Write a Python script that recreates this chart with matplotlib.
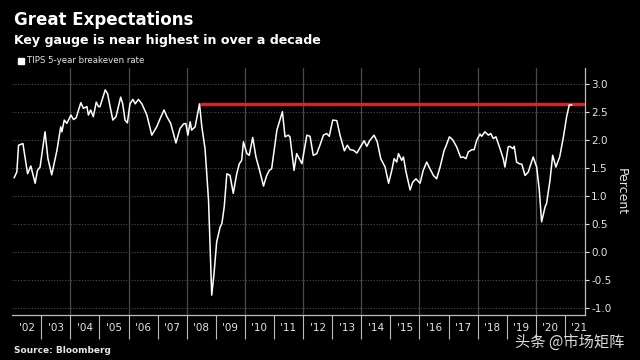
import matplotlib
matplotlib.use("Agg")
import matplotlib.pyplot as plt
from matplotlib.ticker import FixedLocator, NullFormatter

# TIPS 5-year breakeven rate (decimal year, percent)
dates = [
    2002.07, 2002.16, 2002.22, 2002.37, 2002.53, 2002.64, 2002.79, 2002.87, 2002.96,
    2003.13, 2003.23, 2003.36, 2003.54, 2003.67, 2003.71, 2003.79, 2003.88,
    2004.02, 2004.11, 2004.20, 2004.36, 2004.45, 2004.57, 2004.62, 2004.70, 2004.79, 2004.89, 2004.97,
    2005.02, 2005.20, 2005.28, 2005.46, 2005.57, 2005.73, 2005.80, 2005.88, 2005.96,
    2006.05, 2006.15, 2006.23, 2006.34, 2006.46, 2006.63, 2006.80, 2006.97,
    2007.09, 2007.22, 2007.32, 2007.45, 2007.63, 2007.77, 2007.89, 2007.97,
    2008.04, 2008.12, 2008.17, 2008.29, 2008.44, 2008.52, 2008.63, 2008.75, 2008.86, 2008.94,
    2009.03, 2009.15, 2009.21, 2009.29, 2009.38, 2009.49, 2009.60, 2009.72, 2009.81, 2009.89, 2009.95,
    2010.07, 2010.15, 2010.27, 2010.38, 2010.52, 2010.64, 2010.75, 2010.84, 2010.92,
    2011.10, 2011.29, 2011.38, 2011.49, 2011.55, 2011.69, 2011.78, 2011.96,
    2012.13, 2012.24, 2012.35, 2012.47, 2012.58, 2012.70, 2012.81, 2012.90,
    2013.02, 2013.16, 2013.27, 2013.42, 2013.52, 2013.62, 2013.73, 2013.85, 2013.96,
    2014.10, 2014.19, 2014.30, 2014.44, 2014.55, 2014.67, 2014.82, 2014.94,
    2015.05, 2015.13, 2015.22, 2015.28, 2015.39, 2015.45, 2015.54, 2015.68, 2015.77, 2015.88,
    2016.02, 2016.13, 2016.25, 2016.36, 2016.48, 2016.59, 2016.71, 2016.85, 2016.91,
    2017.03, 2017.14, 2017.28, 2017.42, 2017.51, 2017.60, 2017.68, 2017.80, 2017.88, 2017.97,
    2018.08, 2018.14, 2018.25, 2018.37, 2018.45, 2018.54, 2018.63, 2018.77, 2018.88, 2018.94,
    2019.05, 2019.11, 2019.21, 2019.26, 2019.34, 2019.43, 2019.52, 2019.63, 2019.74, 2019.91,
    2020.03, 2020.12, 2020.20, 2020.32, 2020.37, 2020.49, 2020.58, 2020.69, 2020.82, 2020.95,
    2021.06, 2021.15, 2021.23,
]
breakeven = [
    1.33, 1.43, 1.91, 1.94, 1.40, 1.54, 1.23, 1.46, 1.52,
    2.15, 1.67, 1.38, 1.82, 2.24, 2.15, 2.36, 2.30,
    2.45, 2.37, 2.40, 2.67, 2.57, 2.60, 2.45, 2.54, 2.42, 2.68, 2.60,
    2.60, 2.90, 2.83, 2.36, 2.42, 2.77, 2.65, 2.36, 2.31,
    2.65, 2.73, 2.65, 2.73, 2.65, 2.45, 2.09, 2.24,
    2.39, 2.54, 2.42, 2.30, 1.95, 2.21, 2.29, 2.30,
    2.09, 2.33, 2.18, 2.24, 2.65, 2.24, 1.85, 0.93, -0.77, -0.38,
    0.18, 0.45, 0.51, 0.81, 1.40, 1.37, 1.05, 1.40, 1.58, 1.64, 1.97,
    1.76, 1.73, 2.05, 1.70, 1.43, 1.18, 1.37, 1.46, 1.49,
    2.18, 2.51, 2.06, 2.09, 2.06, 1.46, 1.76, 1.58,
    2.09, 2.07, 1.73, 1.76, 1.91, 2.09, 2.12, 2.07,
    2.36, 2.35, 2.09, 1.81, 1.91, 1.83, 1.82, 1.77, 1.87,
    1.99, 1.89, 2.00, 2.09, 1.97, 1.67, 1.52, 1.23,
    1.46, 1.67, 1.61, 1.76, 1.64, 1.70, 1.43, 1.11, 1.25, 1.31,
    1.23, 1.46, 1.61, 1.49, 1.37, 1.31, 1.52, 1.82, 1.89,
    2.06, 2.01, 1.88, 1.69, 1.70, 1.67, 1.79, 1.83, 1.83, 2.00,
    2.11, 2.07, 2.15, 2.09, 2.12, 2.03, 2.06, 1.85, 1.67, 1.52,
    1.88, 1.89, 1.85, 1.89, 1.61, 1.58, 1.57, 1.37, 1.43, 1.70,
    1.52, 1.11, 0.54, 0.81, 0.87, 1.29, 1.73, 1.52, 1.70, 2.06,
    2.42, 2.63, 2.63,
]
high_level = 2.64
high_start = 2008.44

years = list(range(2002, 2022))
year_labels = ["'%02d" % (y % 100) for y in years]
y_ticks = [-1.0, -0.5, 0.0, 0.5, 1.0, 1.5, 2.0, 2.5, 3.0]

bg = "#000000"
fg = "#e6e6e6"
grid_c = "#4a4a4a"

fig = plt.figure(figsize=(6.4, 3.6), dpi=100, facecolor=bg)
ax = fig.add_axes([0.019, 0.125, 0.895, 0.686], facecolor=bg)

x_min, x_max = 2002.0, 2021.69
ax.set_xlim(x_min, x_max)
ax.set_ylim(-1.125, 3.29)

# grid
for yv in y_ticks:
    ax.axhline(yv, color=grid_c, lw=0.8, ls=(0, (1, 1.5)), zorder=1)
for yr in range(2004, 2021, 2):
    ax.axvline(yr, color=grid_c, lw=0.9, zorder=1)

ax.hlines(high_level, high_start, x_max, color="#d8232a", lw=2.4, zorder=3)
ax.plot(dates, breakeven, color="white", lw=1.1, zorder=4)

# axes styling
for s in ("top", "left"):
    ax.spines[s].set_visible(False)
for s in ("bottom", "right"):
    ax.spines[s].set_color("#bdbdbd")
    ax.spines[s].set_linewidth(0.9)

ax.yaxis.tick_right()
ax.yaxis.set_label_position("right")
ax.set_yticks(y_ticks)
ax.set_yticklabels(["%.1f" % v for v in y_ticks])
ax.tick_params(axis="y", colors=fg, labelsize=7.5, length=3, width=0.8, pad=1.5)
ax.set_ylabel("Percent", color=fg, fontsize=9, rotation=270, labelpad=12)

ax.xaxis.set_major_locator(FixedLocator(years[1:]))
ax.xaxis.set_major_formatter(NullFormatter())
ax.xaxis.set_minor_locator(FixedLocator([y + 0.5 for y in years]))
ax.set_xticklabels(year_labels, minor=True)
ax.tick_params(axis="x", which="major", color="#bdbdbd", length=17, width=0.8)
ax.tick_params(axis="x", which="minor", colors=fg, length=0, labelsize=7.5, pad=6)

# titles and notes
fig.text(0.022, 0.945, "Great Expectations", color="white", fontsize=12,
         fontweight="bold", va="center")
fig.text(0.022, 0.888, "Key gauge is near highest in over a decade", color="white",
         fontsize=9.1, fontweight="bold", va="center")
fig.patches.append(plt.Rectangle((0.028, 0.823), 0.0095, 0.017, color="white",
                                 transform=fig.transFigure, figure=fig))
fig.text(0.042, 0.831, "TIPS 5-year breakeven rate", color=fg, fontsize=6.2, va="center")
fig.text(0.022, 0.027, "Source: Bloomberg", color=fg, fontsize=6.5,
         fontweight="bold", va="center")
fig.text(0.805, 0.048, "头条 @市场矩阵", color="#f2f2f2", fontsize=11, va="center",
         family=["Noto Sans CJK SC", "DejaVu Sans"], alpha=0.9)

fig.savefig("out.png", dpi=100, facecolor=bg)
